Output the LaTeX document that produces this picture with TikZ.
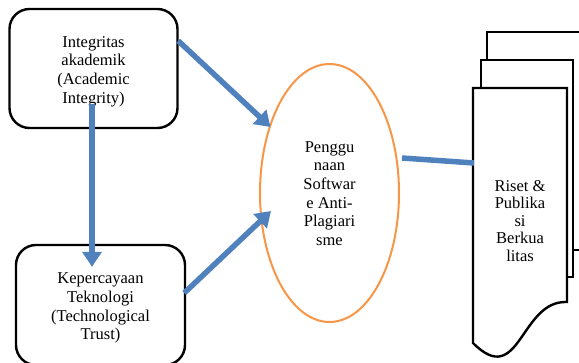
\documentclass[tikz,border=0pt]{standalone}
\usepackage{fontspec}
\setmainfont{Liberation Serif}
\usetikzlibrary{arrows.meta,calc,shapes.geometric}
\definecolor{arrowblue}{RGB}{79,129,189}
\definecolor{ellorange}{RGB}{247,150,70}
\newcommand{\stacktext}[2]{\raisebox{#1}[\height][\depth]{\begin{tabular}{@{}c@{}}#2\end{tabular}}}
\begin{document}
\begin{tikzpicture}[x=1pt,y=-1pt,
  txt/.style={align=center,font=\fontsize{16.5}{18.6}\selectfont},
  box/.style={txt,draw=black,line width=2.4pt,rounded corners=20pt,fill=white,inner sep=0pt},
  oval/.style={txt,ellipse,draw=ellorange,line width=2pt,fill=white,inner sep=0pt},
  page/.style={draw=black,line width=2.4pt,fill=white,line join=miter},
  conn/.style={draw=arrowblue,line width=5.5pt},
  arr/.style={conn,-{Triangle[length=15pt,width=19pt]}}]
\useasboundingbox (0,0) rectangle (579,362);
% boxes
\node[box,minimum width=168pt,minimum height=119pt] (b1) at (93.5,68.5) {\stacktext{-3pt}{Integritas\\akademik\\(Academic\\Integrity)}};
\node[box,minimum width=169pt,minimum height=120pt] (b2) at (100.5,305) {\stacktext{-3pt}{Kepercayaan\\Teknologi\\(Technological\\Trust)}};
% ellipse
\node[oval,minimum width=139pt,minimum height=258pt] (e) at (329.5,193) {\stacktext{-2pt}{Penggu\\naan\\Softwar\\e Anti-\\Plagiari\\sme}};
% multi-document
\coordinate (fd) at (473,88);
\path[page] (487,250) -- (487,32) -- (585,32) -- (585,250) -- cycle;
\path[page] (481,277) -- (481,60) -- (573,60) -- (573,277) -- cycle;
\path[page] (fd) -- (567,88) -- (567,302) .. controls (520,300) and (520,390) .. (473,343) -- cycle;
\node[align=center,font=\fontsize{16.5}{17.5}\selectfont] (d) at (520,221) {Riset \&\\Publika\\si\\Berkua\\litas};
% connectors
\coordinate (a1s) at ($(b1.north east)+(-0.5,33)$);
\coordinate (a1e) at ($(e.center)+(-59,-66)$);
\coordinate (a2s) at ($(b1.south)+(-1.5,-25)$);
\coordinate (a2e) at ($(b2.north)+(-8.5,23)$);
\coordinate (a3s) at ($(b2.east)+(-2,-12)$);
\coordinate (a3e) at ($(e.center)+(-58.5,18)$);
\coordinate (l4s) at ($(e.east)+(2,-35)$);
\coordinate (l4e) at ($(fd)+(1,75)$);
\draw[arr] (a1s) -- (a1e);
\draw[arr] (a2s) -- (a2e);
\draw[arr] (a3s) -- (a3e);
\draw[conn] (l4s) -- (l4e);
\end{tikzpicture}
\end{document}
